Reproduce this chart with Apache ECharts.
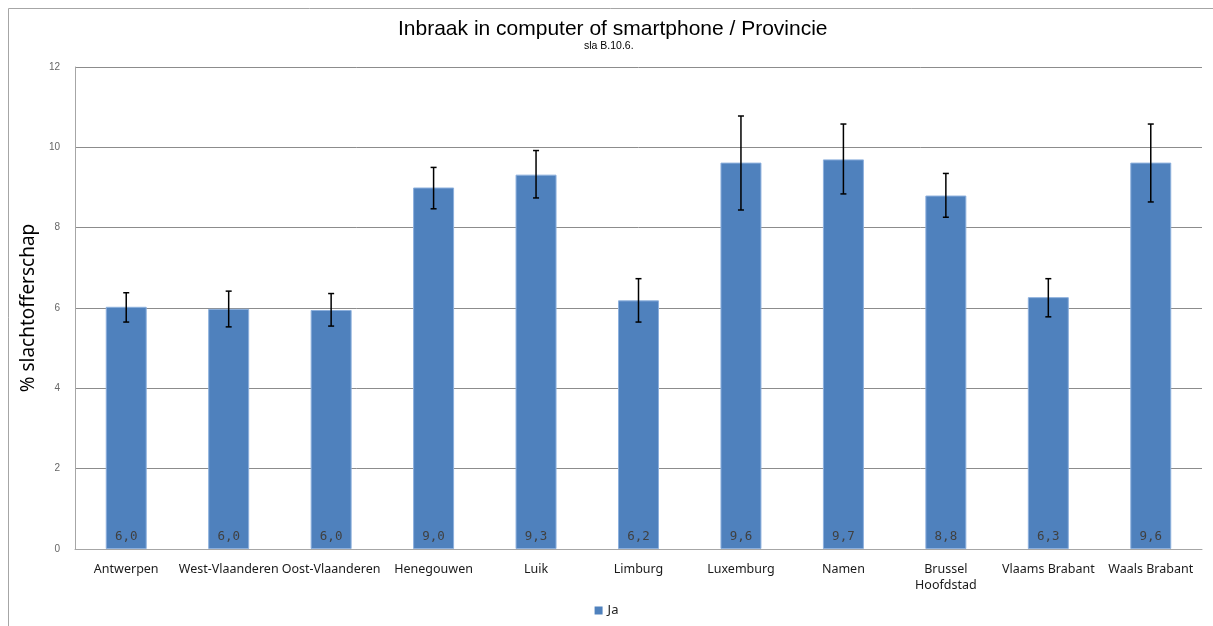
<!DOCTYPE html>
<html>
<head>
<meta charset="utf-8">
<script src="https://cdn.jsdelivr.net/npm/echarts@6/dist/echarts.min.js"></script>
<style>
html,body{margin:0;padding:0;background:#fff;}
#chart{width:1213px;height:626px;}
</style>
</head>
<body>
<div id="chart"></div>
<script>
const categories = ['Antwerpen','West-Vlaanderen','Oost-Vlaanderen','Henegouwen','Luik','Limburg','Luxemburg','Namen','Brussel\nHoofdstad','Vlaams Brabant','Waals Brabant'];
const values = [6.03, 5.98, 5.95, 9.0, 9.32, 6.19, 9.62, 9.7, 8.8, 6.27, 9.62];
const errLow = [5.65, 5.53, 5.55, 8.47, 8.74, 5.65, 8.44, 8.84, 8.26, 5.78, 8.64];
const errHigh = [6.38, 6.42, 6.36, 9.5, 9.92, 6.73, 10.78, 10.58, 9.35, 6.73, 10.58];
const yTicks = [0, 2, 4, 6, 8, 10, 12];

const chart = echarts.init(document.getElementById('chart'));
const option = {
  backgroundColor: '#fff',
  animation: false,
  title: [
    {
      text: 'Inbraak in computer of smartphone / Provincie',
      left: 393,
      top: 14,
      textStyle: {fontFamily: 'Liberation Sans', fontSize: 21, fontWeight: 'normal', color: '#000'}
    },
    {
      text: 'sla B.10.6.',
      left: 579,
      top: 36,
      textStyle: {fontFamily: 'Liberation Sans', fontSize: 10.5, fontWeight: 'normal', color: '#000'}
    }
  ],
  legend: {
    data: ['Ja'],
    bottom: 4,
    left: 'center',
    icon: 'rect',
    itemWidth: 8,
    itemHeight: 8,
    itemGap: 4,
    itemStyle: {borderWidth: 0},
    textStyle: {fontFamily: 'Noto Sans', fontSize: 13, color: '#222'}
  },
  grid: {left: 75, right: 11, top: 67, bottom: 77, containLabel: false},
  xAxis: {
    type: 'category',
    data: categories,
    axisLine: {lineStyle: {color: '#a6a6a6', width: 1}},
    axisTick: {show: false},
    axisLabel: {fontFamily: 'Noto Sans', fontSize: 12.5, color: '#1a1a1a', margin: 12, interval: 0, lineHeight: 16}
  },
  yAxis: {
    type: 'value',
    min: yTicks[0],
    max: yTicks[yTicks.length - 1],
    interval: 2,
    name: '% slachtofferschap',
    nameLocation: 'middle',
    nameGap: 28,
    nameTextStyle: {fontFamily: 'Noto Sans', fontSize: 19, color: '#000'},
    axisLine: {show: true, lineStyle: {color: '#a6a6a6'}},
    axisTick: {show: false},
    axisLabel: {fontFamily: 'Liberation Sans', fontSize: 10, color: '#666', margin: 15},
    splitLine: {lineStyle: {color: '#8c8c8c', width: 1}}
  },
  series: [
    {
      name: 'Ja',
      type: 'bar',
      data: values,
      barWidth: '40%',
      itemStyle: {color: '#4f81bd', borderColor: '#8db0dd', borderWidth: 1},
      label: {
        show: true,
        position: 'insideBottom',
        distance: 6,
        formatter: p => p.value.toFixed(1).replace('.', ','),
        fontFamily: 'DejaVu Sans Mono',
        fontSize: 12.5,
        color: '#404040'
      },
      z: 2
    },
    {
      name: 'err',
      type: 'custom',
      data: categories.map((c, i) => [i, errLow[i], errHigh[i]]),
      renderItem: function (params, api) {
        const x = api.value(0);
        const lo = api.coord([x, api.value(1)]);
        const hi = api.coord([x, api.value(2)]);
        const hw = 3;
        const style = {stroke: '#000', lineWidth: 1.5};
        return {
          type: 'group',
          children: [
            {type: 'line', shape: {x1: hi[0], y1: hi[1], x2: lo[0], y2: lo[1]}, style: style},
            {type: 'line', shape: {x1: hi[0] - hw, y1: hi[1], x2: hi[0] + hw, y2: hi[1]}, style: style},
            {type: 'line', shape: {x1: lo[0] - hw, y1: lo[1], x2: lo[0] + hw, y2: lo[1]}, style: style}
          ]
        };
      },
      z: 5,
      silent: true
    }
  ],
  graphic: [
    {type: 'line', shape: {x1: 8.5, y1: 8.5, x2: 1213, y2: 8.5}, style: {stroke: '#a6a6a6', lineWidth: 1}},
    {type: 'line', shape: {x1: 8.5, y1: 8.5, x2: 8.5, y2: 626}, style: {stroke: '#a6a6a6', lineWidth: 1}}
  ]
};
chart.setOption(option);
</script>
</body>
</html>
